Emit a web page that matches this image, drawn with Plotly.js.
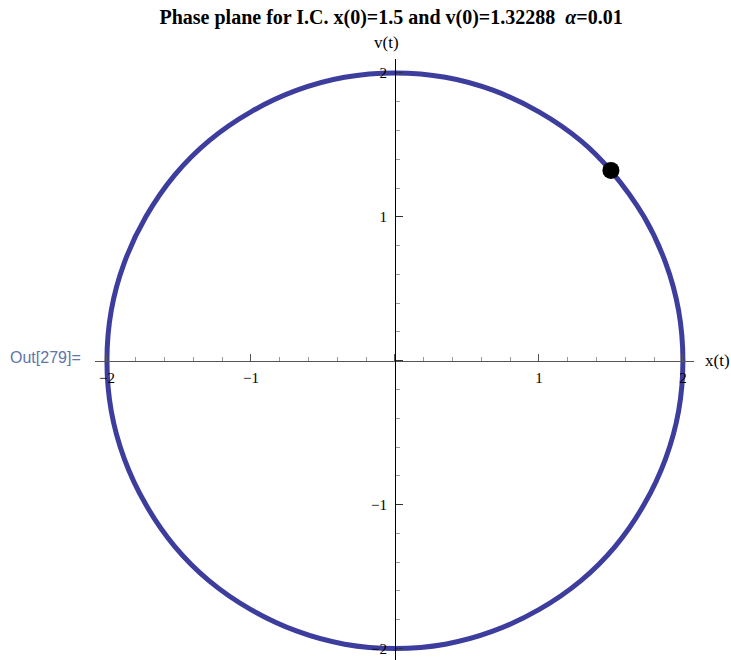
<!DOCTYPE html>
<html>
<head>
<meta charset="utf-8">
<script src="https://cdn.plot.ly/plotly-3.0.1.min.js"></script>
<style>
	html, body { margin: 0; padding: 0; background: #fff; }
	#chart { width: 731px; height: 660px; }
</style>
</head>
<body>
<div id="chart"></div>
<script>
// trajectory, clockwise from the initial condition
var traj_x = [1.50, 1.73, 1.88, 1.97, 2.00, 1.97, 1.88, 1.73, 1.53, 1.29, 1.00, 0.68, 0.35, 0.00,
	-0.35, -0.68, -1.00, -1.29, -1.53, -1.73, -1.88, -1.97, -2.00, -1.97, -1.88, -1.73, -1.53, -1.29,
	-1.00, -0.68, -0.35, 0.00, 0.35, 0.68, 1.00, 1.29, 1.50];
var traj_v = [1.32, 1.00, 0.68, 0.35, 0.00, -0.35, -0.68, -1.00, -1.29, -1.53, -1.73, -1.88, -1.97, -2.00,
	-1.97, -1.88, -1.73, -1.53, -1.29, -1.00, -0.68, -0.35, 0.00, 0.35, 0.68, 1.00, 1.29, 1.53,
	1.73, 1.88, 1.97, 2.00, 1.97, 1.88, 1.73, 1.53, 1.32];

var start_x = [1.5];
var start_v = [1.32288];

var tick_vals = [-2, -1, 0, 1, 2];
var tick_text = ['\u22122', '\u22121', '', '1', '2'];

var x_range = [-2.083, 2.077];
var v_range = [-2.08, 2.097];

var orbit = {
	type: 'scatter',
	x: traj_x,
	y: traj_v,
	mode: 'lines',
	line: {color: '#3d3d9e', width: 5, shape: 'spline', smoothing: 1},
	hoverinfo: 'skip'
};

var ic = {
	type: 'scatter',
	x: start_x,
	y: start_v,
	mode: 'markers',
	marker: {color: '#000', size: 17},
	hoverinfo: 'skip'
};

var serif = 'Liberation Serif, Times New Roman, serif';
var tickfont = {family: serif, size: 15, color: '#000'};
var labelfont = {family: serif, size: 17, color: '#000'};

var layout = {
	width: 731,
	height: 660,
	margin: {l: 95, r: 37, t: 59, b: 0},
	showlegend: false,
	paper_bgcolor: '#fff',
	plot_bgcolor: '#fff',
	title: {
		text: 'Phase plane for I.C. x(0)=1.5 and v(0)=1.32288  <i>\u03b1</i>=0.01',
		font: {family: serif, size: 20, color: '#000', weight: 'bold'},
		x: 0.535, xanchor: 'center',
		y: 0.975, yanchor: 'middle'
	},
	xaxis: {
		range: x_range,
		anchor: 'free',
		position: (0 - v_range[0]) / (v_range[1] - v_range[0]),
		showgrid: false, zeroline: false,
		showline: true, linecolor: '#555', linewidth: 1,
		tickmode: 'array', tickvals: tick_vals, ticktext: tick_text,
		ticks: 'inside', ticklen: 7, tickcolor: '#555',
		ticklabelstandoff: 3,
		minor: {tickmode: 'linear', tick0: 0, dtick: 0.2, ticks: 'inside', ticklen: 4, tickcolor: '#999'},
		tickfont: tickfont,
		fixedrange: true
	},
	yaxis: {
		range: v_range,
		anchor: 'free',
		position: (0 - x_range[0]) / (x_range[1] - x_range[0]),
		showgrid: false, zeroline: false,
		showline: true, linecolor: '#000', linewidth: 1,
		tickmode: 'array', tickvals: tick_vals, ticktext: tick_text,
		ticks: 'inside', ticklen: 7, tickcolor: '#333',
		ticklabelstandoff: 5,
		minor: {tickmode: 'linear', tick0: 0, dtick: 0.2, ticks: 'inside', ticklen: 4, tickcolor: '#999'},
		tickfont: tickfont,
		fixedrange: true
	},
	annotations: [
		{text: 'v(t)', xref: 'x', yref: 'paper', x: 0, y: 1.028, xshift: -8, yanchor: 'middle',
			showarrow: false, font: labelfont},
		{text: 'x(t)', xref: 'paper', yref: 'y', x: 1.04, y: 0, xanchor: 'center',
			showarrow: false, font: labelfont},
		{text: 'Out[279]=', xref: 'paper', yref: 'y', x: -0.145, y: 0.025, xanchor: 'left',
			showarrow: false, font: {family: 'Liberation Sans, Arial, sans-serif', size: 16, color: '#6274aa'}}
	]
};

Plotly.newPlot('chart', [orbit, ic], layout, {displayModeBar: false, staticPlot: true});
</script>
</body>
</html>
